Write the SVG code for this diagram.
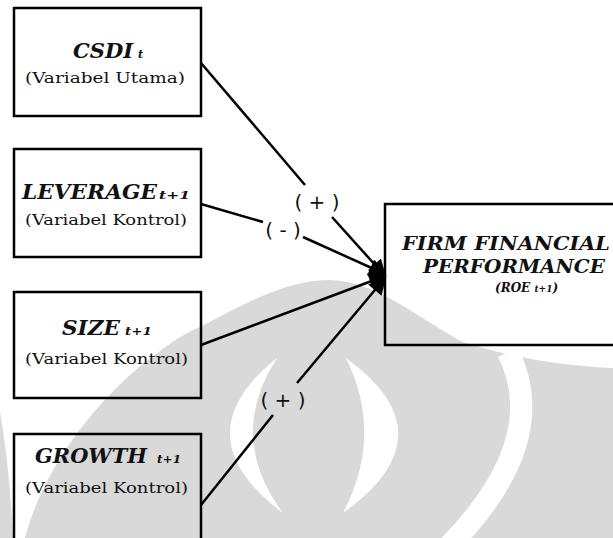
<svg xmlns="http://www.w3.org/2000/svg" width="613" height="538" viewBox="0 0 613 538">
  <style>
    .box { fill: none; stroke: #000; stroke-width: 2.5; }
    .title { font-family: "DejaVu Serif", "Liberation Serif", serif; font-weight: bold; font-style: italic; fill: #111; }
    .sub { font-family: "DejaVu Serif", "Liberation Serif", serif; font-weight: bold; font-style: italic; font-size: 11px; fill: #111; }
    .note { font-family: "DejaVu Serif", "Liberation Serif", serif; font-size: 15px; fill: #111; }
    .lbl { font-family: "DejaVu Sans", "Liberation Sans", sans-serif; font-size: 20px; fill: #111; text-anchor: middle; }
    .conn { stroke: #000; stroke-width: 2.5; fill: none; }
    .wm { fill: #d9d9d9; }
    .wmw { fill: #fff; }
  </style>
  <defs>
    <marker id="arr" viewBox="0 0 10 10" refX="9" refY="5" markerWidth="8" markerHeight="7" orient="auto" markerUnits="strokeWidth">
      <path d="M0,0 L10,5 L0,10 Z" fill="#000"/>
    </marker>
  </defs>

  <g id="watermark">
    <path class="wm" d="M 0 412 Q 10 470 13 538 L 0 538 Z"/>
    <path class="wm" d="M 25 538 C 40 480 80 420 130 375 C 160 350 180 335 200 327 C 250 300 290 280 330 280 C 380 282 420 320 463 342 C 520 360 570 366 613 368 L 613 538 Z"/>
    <path class="wmw" d="M 277 358 Q 180 436 283 513 Q 226 436 277 358 Z"/>
    <path class="wmw" d="M 346 358 Q 452 435 343 513 Q 384 435 346 358 Z"/>
    <path d="M 508 352 Q 552 440 450 545" stroke="#fff" stroke-width="22" fill="none"/>
  </g>

  <g id="connectors">
    <line class="conn" x1="201" y1="63" x2="305" y2="185"/>
    <line class="conn" x1="332" y1="217" x2="385" y2="276" marker-end="url(#arr)"/>
    <line class="conn" x1="201" y1="204" x2="263" y2="222"/>
    <line class="conn" x1="303" y1="237" x2="385" y2="274" marker-end="url(#arr)"/>
    <line class="conn" x1="201" y1="345" x2="385" y2="276" marker-end="url(#arr)"/>
    <line class="conn" x1="201" y1="505" x2="273" y2="415"/>
    <line class="conn" x1="297" y1="383" x2="385" y2="278" marker-end="url(#arr)"/>
    <text class="lbl" x="317" y="209">( + )</text>
    <text class="lbl" x="283" y="237">( - )</text>
    <text class="lbl" x="283" y="407">( + )</text>
  </g>

  <g id="csdi">
    <rect class="box" x="14" y="8" width="187" height="108"/>
    <text class="title" x="73" y="58" font-size="20" textLength="60" lengthAdjust="spacingAndGlyphs">CSDI</text>
    <text class="sub" x="138" y="58">t</text>
    <text class="note" x="25" y="83" textLength="160" lengthAdjust="spacingAndGlyphs">(Variabel Utama)</text>
  </g>

  <g id="leverage">
    <rect class="box" x="14" y="149" width="187" height="108"/>
    <text class="title" x="22" y="199" font-size="20" textLength="135" lengthAdjust="spacingAndGlyphs">LEVERAGE</text>
    <text class="sub" x="159" y="199" textLength="31" lengthAdjust="spacingAndGlyphs">t+1</text>
    <text class="note" x="25" y="225" textLength="162" lengthAdjust="spacingAndGlyphs">(Variabel Kontrol)</text>
  </g>

  <g id="size">
    <rect class="box" x="14" y="292" width="187" height="106"/>
    <text class="title" x="62" y="335" font-size="20" textLength="58" lengthAdjust="spacingAndGlyphs">SIZE</text>
    <text class="sub" x="125" y="335" textLength="27" lengthAdjust="spacingAndGlyphs">t+1</text>
    <text class="note" x="25" y="364" textLength="163" lengthAdjust="spacingAndGlyphs">(Variabel Kontrol)</text>
  </g>

  <g id="growth">
    <rect class="box" x="14" y="434" width="187" height="120"/>
    <text class="title" x="35" y="463" font-size="20" textLength="112" lengthAdjust="spacingAndGlyphs">GROWTH</text>
    <text class="sub" x="157" y="463" textLength="24" lengthAdjust="spacingAndGlyphs">t+1</text>
    <text class="note" x="25" y="493" textLength="163" lengthAdjust="spacingAndGlyphs">(Variabel Kontrol)</text>
  </g>

  <g id="firm">
    <rect class="box" x="385" y="204" width="240" height="141"/>
    <text class="title" x="402" y="250" font-size="19" textLength="208" lengthAdjust="spacingAndGlyphs">FIRM FINANCIAL</text>
    <text class="title" x="423" y="273" font-size="19" textLength="182" lengthAdjust="spacingAndGlyphs">PERFORMANCE</text>
    <text class="title" x="495" y="292" font-size="12">(ROE <tspan font-size="9">t+1</tspan>)</text>
  </g>
</svg>
